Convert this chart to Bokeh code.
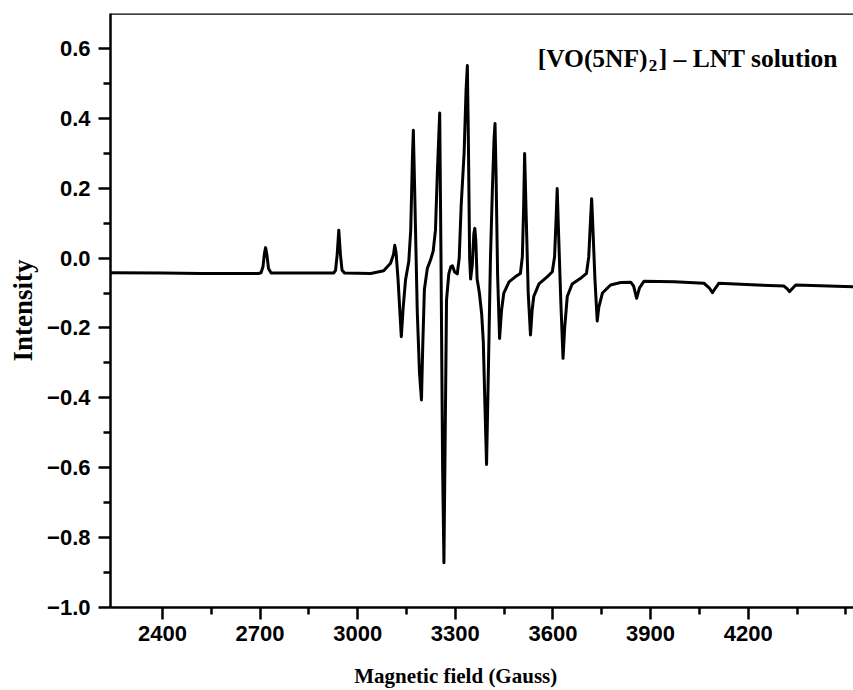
from bokeh.plotting import figure
from bokeh.models import (Range1d, FixedTicker, Label, Span,
                          CustomJSTickFormatter, ColumnDataSource)
from bokeh.embed import file_html
from bokeh.resources import INLINE

# ---- data ----
field_g = [
    2241, 2400, 2520, 2695,
    2703, 2709, 2713, 2717, 2721, 2726, 2734,
    2830, 2926,
    2932, 2937, 2942, 2947, 2952, 2960,
    3040, 3080, 3101, 3110, 3114, 3118, 3124, 3134, 3140, 3147, 3157,
    3163, 3168, 3171, 3175, 3183, 3190, 3196, 3200, 3205, 3214, 3224,
    3232, 3239, 3245, 3252, 3256, 3261, 3265, 3269, 3273, 3280, 3286,
    3291, 3298, 3306, 3312, 3318, 3327, 3333, 3337, 3340, 3344, 3347,
    3352, 3357, 3360, 3363, 3367, 3374, 3381, 3386, 3391, 3396, 3401,
    3408, 3414, 3419, 3422, 3425, 3430, 3436, 3442, 3449, 3465, 3485,
    3500, 3506, 3510, 3513, 3517, 3524, 3531, 3536, 3541, 3557, 3583,
    3598, 3605, 3610, 3613, 3617, 3624, 3631, 3636, 3644, 3659, 3685,
    3703, 3710, 3715, 3719, 3723, 3729, 3736, 3741, 3752, 3777, 3808,
    3839, 3848, 3857, 3866, 3880, 3972, 4064, 4080, 4090, 4100, 4110,
    4228, 4310, 4320, 4327, 4335, 4346, 4523,
]
intensity = [
    -0.042, -0.043, -0.044, -0.044,
    -0.042, -0.025, 0.010, 0.030, 0.010, -0.030, -0.043,
    -0.043, -0.043,
    -0.035, 0.010, 0.080, 0.010, -0.035, -0.043,
    -0.044, -0.036, -0.015, 0.010, 0.037, 0.015, -0.060, -0.225, -0.140, -0.063, -0.010,
    0.080, 0.280, 0.366, 0.200, -0.150, -0.330, -0.406, -0.250, -0.090, -0.030, -0.005,
    0.020, 0.080, 0.250, 0.415, 0.000, -0.600, -0.872, -0.500, -0.120, -0.045, -0.025,
    -0.022, -0.040, -0.045, 0.000, 0.150, 0.300, 0.480, 0.551, 0.350, 0.000, -0.060,
    -0.020, 0.070, 0.085, 0.050, -0.060, -0.100, -0.160, -0.240, -0.420, -0.591, -0.350,
    0.000, 0.200, 0.340, 0.385, 0.250, -0.050, -0.230, -0.150, -0.100, -0.068, -0.053,
    -0.044, 0.004, 0.150, 0.299, 0.150, -0.100, -0.220, -0.150, -0.110, -0.074, -0.053,
    -0.039, 0.004, 0.120, 0.199, 0.080, -0.120, -0.287, -0.200, -0.110, -0.074, -0.058,
    -0.044, 0.004, 0.100, 0.170, 0.080, -0.060, -0.180, -0.140, -0.100, -0.077, -0.070,
    -0.069, -0.080, -0.115, -0.085, -0.066, -0.068, -0.072, -0.085, -0.099, -0.085, -0.072,
    -0.077, -0.080, -0.088, -0.096, -0.088, -0.077, -0.082,
]

x_major_ticks = [2400, 2700, 3000, 3300, 3600, 3900, 4200]
x_minor_ticks = [2550, 2850, 3150, 3450, 3750, 4050, 4350, 4500]
y_major_ticks = [-1.0, -0.8, -0.6, -0.4, -0.2, 0.0, 0.2, 0.4, 0.6]
y_minor_ticks = [-0.9, -0.7, -0.5, -0.3, -0.1, 0.1, 0.3, 0.5]
x_title = "Magnetic field (Gauss)"
y_title = "Intensity"
note_main = "[VO(5NF)"
note_sub = "2"
note_rest = "] \u2013 LNT solution"

# ---- figure ----
p = figure(width=853, height=690, output_backend="svg", toolbar_location=None,
           x_range=Range1d(2240.5, 4523.5), y_range=Range1d(-1.0, 0.7),
           min_border_left=110, min_border_right=0, min_border_top=13,
           min_border_bottom=82)
p.outline_line_color = None
p.xgrid.visible = False
p.ygrid.visible = False
p.background_fill_color = "white"
p.border_fill_color = "white"

src = ColumnDataSource(dict(x=field_g, y=intensity))
p.line("x", "y", source=src, line_color="black", line_width=3,
       line_join="round")

p.add_layout(Span(location=0.7, dimension="width", line_color="black",
                  line_width=2.5))

sans = "Liberation Sans"
serif = "Liberation Serif"

for ax in (p.xaxis[0], p.yaxis[0]):
    ax.axis_line_width = 2.5
    ax.axis_line_color = "black"
    ax.major_tick_line_width = 2.5
    ax.minor_tick_line_width = 2.5
    ax.major_tick_line_color = "black"
    ax.minor_tick_line_color = "black"
    ax.major_tick_in = 0
    ax.major_tick_out = 12
    ax.minor_tick_in = 0
    ax.minor_tick_out = 7
    ax.major_label_text_font = sans
    ax.major_label_text_font_style = "bold"
    ax.major_label_text_font_size = "22px"
    ax.major_label_text_color = "black"
    ax.axis_label_text_font = serif
    ax.axis_label_text_font_style = "bold"
    ax.axis_label_text_color = "black"

p.xaxis[0].ticker = FixedTicker(ticks=x_major_ticks, minor_ticks=x_minor_ticks)
p.yaxis[0].ticker = FixedTicker(ticks=y_major_ticks, minor_ticks=y_minor_ticks)
p.xaxis[0].major_label_standoff = 6
p.yaxis[0].major_label_standoff = 8
p.yaxis[0].formatter = CustomJSTickFormatter(code="""
    var v = Math.abs(tick) < 1e-9 ? 0 : tick;
    return v.toFixed(1).replace('-', '\u2212');
""")

p.yaxis[0].axis_label = y_title
p.yaxis[0].axis_label_text_font_size = "27px"
p.yaxis[0].axis_label_standoff = 6

# x title: the reference centres it left of the (cut-off) frame centre,
# trailing no-break spaces shift the centred label to that spot
p.xaxis[0].axis_label = x_title + "\u00a0" * 10
p.xaxis[0].axis_label_text_font_size = "21px"
p.xaxis[0].axis_label_standoff = 20

nx, ny = 3553, 0.572
p.add_layout(Label(x=nx, y=ny, text=note_main, text_align="left",
                   text_baseline="alphabetic", text_font=serif,
                   text_font_style="bold", text_font_size="25.5px",
                   text_color="black"))
p.add_layout(Label(x=nx, y=ny, x_offset=111, y_offset=-7, text=note_sub,
                   text_align="left", text_baseline="alphabetic",
                   text_font=serif, text_font_style="bold",
                   text_font_size="17px", text_color="black"))
p.add_layout(Label(x=nx, y=ny, x_offset=121, text=note_rest,
                   text_align="left", text_baseline="alphabetic",
                   text_font=serif, text_font_style="bold",
                   text_font_size="25.5px", text_color="black"))

open("out.html", "w").write(file_html(p, INLINE))
